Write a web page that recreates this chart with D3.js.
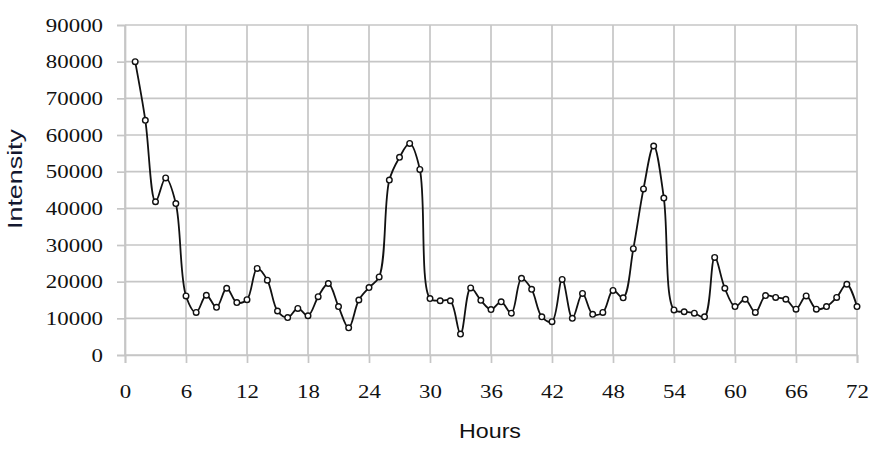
<!DOCTYPE html>
<html>
<head>
<meta charset="utf-8">
<script src="https://cdn.jsdelivr.net/npm/d3@7"></script>
<style>
  html, body { margin: 0; padding: 0; background: #fff; }
  svg { display: block; }
</style>
</head>
<body>
<svg id="chart" width="873" height="451"></svg>
<script>
const hours = d3.range(1, 73);
const intensity = [
  80000, 64000, 41800, 48300, 41300, 16100, 11600, 16300, 13000, 18200,
  14300, 15100, 23600, 20400, 12000, 10200, 12700, 10700, 15900, 19500,
  13200, 7400, 15000, 18400, 21300, 47700, 53900, 57700, 50600, 15400,
  14800, 14800, 5700, 18300, 14900, 12400, 14500, 11400, 20900, 17900,
  10400, 9100, 20600, 10000, 16800, 11100, 11600, 17600, 15600, 29000,
  45300, 57000, 42800, 12300, 11800, 11400, 10400, 26600, 18200, 13200,
  15200, 11600, 16200, 15700, 15200, 12500, 16100, 12500, 13200, 15700,
  19300, 13200
];
const xTicks = [0, 6, 12, 18, 24, 30, 36, 42, 48, 54, 60, 66, 72];
const yTicks = [0, 10000, 20000, 30000, 40000, 50000, 60000, 70000, 80000, 90000];

const data = hours.map((h, i) => ({ h, v: intensity[i] }));

const svg = d3.select("#chart");
const mLeft = 125, mRight = 857, mTop = 25, mBottom = 355;

const x = d3.scaleLinear().domain([0, 72]).range([mLeft, mRight]);
const y = d3.scaleLinear().domain([0, 90000]).range([mBottom, mTop]);

const gridColor = "#c6c6c6";

// grid
svg.append("g").selectAll("line").data(yTicks).join("line")
  .attr("x1", mLeft).attr("x2", mRight)
  .attr("y1", d => y(d)).attr("y2", d => y(d))
  .attr("stroke", gridColor).attr("stroke-width", 1.7);
svg.append("g").selectAll("line").data(xTicks).join("line")
  .attr("x1", d => x(d)).attr("x2", d => x(d))
  .attr("y1", mTop).attr("y2", mBottom)
  .attr("stroke", gridColor).attr("stroke-width", 1.7);

// axes
const yAxis = svg.append("g").attr("transform", `translate(${mLeft},0)`)
  .call(d3.axisLeft(y).tickValues(yTicks).tickFormat(d3.format("d")).tickSize(8).tickPadding(14));
const xAxis = svg.append("g").attr("transform", `translate(0,${mBottom})`)
  .call(d3.axisBottom(x).tickValues(xTicks).tickFormat(d3.format("d")).tickSize(8).tickPadding(22));

[yAxis, xAxis].forEach(ax => {
  ax.select(".domain").attr("stroke", gridColor).attr("stroke-width", 1.7);
  ax.selectAll(".tick line").attr("stroke", gridColor).attr("stroke-width", 1.7);
  ax.selectAll(".tick text")
    .attr("fill", "#111")
    .style("font-family", "'Liberation Serif', 'Times New Roman', serif")
    .style("font-size", "18px")
    .each(function () {
      const w = this.getComputedTextLength();
      d3.select(this).attr("textLength", w * 1.27).attr("lengthAdjust", "spacingAndGlyphs");
    });
});
yAxis.selectAll(".tick text").attr("dy", "0.34em");

// line
const line = d3.line().x(d => x(d.h)).y(d => y(d.v)).curve(d3.curveCatmullRom.alpha(0.5));
svg.append("path").datum(data)
  .attr("d", line)
  .attr("fill", "none")
  .attr("stroke", "#111")
  .attr("stroke-width", 1.8);

svg.append("g").selectAll("circle").data(data).join("circle")
  .attr("cx", d => x(d.h)).attr("cy", d => y(d.v)).attr("r", 2.8)
  .attr("fill", "#fff").attr("stroke", "#111").attr("stroke-width", 1.4);

// axis titles
svg.append("text")
  .attr("transform", `translate(22,179) rotate(-90)`)
  .attr("text-anchor", "middle")
  .attr("fill", "#141830")
  .attr("textLength", 100).attr("lengthAdjust", "spacingAndGlyphs")
  .style("font-family", "'Liberation Sans', Arial, sans-serif")
  .style("font-size", "21px")
  .text("Intensity");

svg.append("text")
  .attr("x", 490).attr("y", 438)
  .attr("text-anchor", "middle")
  .attr("fill", "#111")
  .attr("textLength", 62).attr("lengthAdjust", "spacingAndGlyphs")
  .style("font-family", "'Liberation Sans', Arial, sans-serif")
  .style("font-size", "21px")
  .text("Hours");
</script>
</body>
</html>
